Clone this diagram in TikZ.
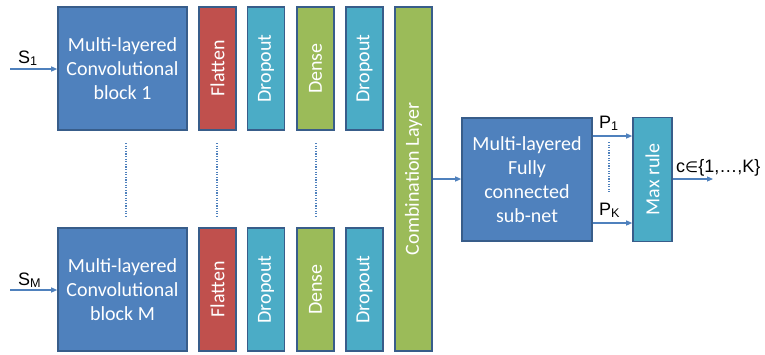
\documentclass[tikz,border=0pt]{standalone}
\usepackage{fontspec}
\setmainfont{Carlito}
\newfontfamily\labelfont{Liberation Sans}
\newfontfamily\symfont{DejaVu Sans}
\usetikzlibrary{arrows.meta}
\definecolor{convblue}{HTML}{4F81BD}
\definecolor{edgeblue}{HTML}{385D8A}
\definecolor{flatred}{HTML}{C0504D}
\definecolor{dropcyan}{HTML}{4BACC6}
\definecolor{densegreen}{HTML}{9BBB59}
\tikzset{
  block/.style={draw=edgeblue, line width=1.6pt, text=white, inner sep=0pt,
    font=\fontsize{20}{24}\selectfont, align=center},
  bigblock/.style={block, fill=convblue, minimum width=129pt, minimum height=123pt},
  layer/.style={block, fill=#1, minimum width=37pt, minimum height=123pt},
  tall/.style={block, fill=#1, minimum width=37pt, minimum height=344pt},
  flow/.style={draw=convblue, line width=1.1pt, -{Triangle[length=6pt,width=5pt]}},
  dots/.style={draw=convblue, line width=2pt, dash pattern=on 1.2pt off 1.4pt},
  lab/.style={font=\labelfont\fontsize{18}{21}\selectfont, inner sep=0pt}
}
\begin{document}
\begin{tikzpicture}[x=1pt,y=-1pt]
\useasboundingbox (0,0) rectangle (765,354);

% upper branch
\node[bigblock] (c1) at (122.5,68.5) {Multi-layered\\Convolutional\\block 1};
\node[layer=flatred] (f1) at (217.5,68.5) {\rotatebox{90}{Flatten}};
\node[layer=dropcyan] (d1) at (266,68.5) {\rotatebox{90}{Dropout}};
\node[layer=densegreen] (n1) at (315.5,68.5) {\rotatebox{90}{Dense}};
\node[layer=dropcyan] (e1) at (364.5,68.5) {\rotatebox{90}{Dropout}};

% lower branch
\node[bigblock] (cm) at (122.5,289.5) {Multi-layered\\Convolutional\\block M};
\node[layer=flatred] (fm) at (217.5,289.5) {\rotatebox{90}{Flatten}};
\node[layer=dropcyan] (dm) at (266,289.5) {\rotatebox{90}{Dropout}};
\node[layer=densegreen] (nm) at (315.5,289.5) {\rotatebox{90}{Dense}};
\node[layer=dropcyan] (em) at (364.5,289.5) {\rotatebox{90}{Dropout}};

% combination and classifier
\node[tall=densegreen] (comb) at (413.5,179) {\rotatebox{90}{Combination Layer}};
\node[block, fill=convblue, minimum width=130pt, minimum height=123pt] (fc) at (527,179.5) {Multi-layered\\Fully\\connected\\sub-net};
\node[block, fill=dropcyan, minimum width=39pt, minimum height=124pt] (mx) at (652.5,179.5) {\rotatebox{90}{Max rule}};

% vertical ellipses between the branches
\draw[dots] (126,143) -- (126,216);
\draw[dots] (217,143) -- (217,216);
\draw[dots] (316,143) -- (316,216);
\draw[dots] (609,142) -- (609,192);

% inputs
\coordinate (s1) at (10,69);
\coordinate (sm) at (10,290);
\draw[flow] (s1) -- (s1 -| c1.west);
\draw[flow] (sm) -- (sm -| cm.west);
\node[lab, anchor=base west] (ls1) at (18,63) {S\textsubscript{1}};
\node[lab, anchor=base west] (lsm) at (18,285) {S\textsubscript{M}};

% connections on the right
\draw[flow] (comb.east |- 0,179) -- (fc.west |- 0,179);
\draw[flow] (fc.east |- 0,136) -- (mx.west |- 0,136);
\draw[flow] (fc.east |- 0,223) -- (mx.west |- 0,223);
\coordinate (out) at (713,179);
\draw[flow] (mx.east |- out) -- (out);
\node[lab, anchor=base west] (p1) at (599,128) {P\textsubscript{1}};
\node[lab, anchor=base west] (pk) at (599,215) {P\textsubscript{K}};
\node[lab, anchor=base west] (cls) at (676,172) {c{\symfont\fontsize{15}{18}\selectfont ∈}\{1,…,K\}};
\end{tikzpicture}
\end{document}
